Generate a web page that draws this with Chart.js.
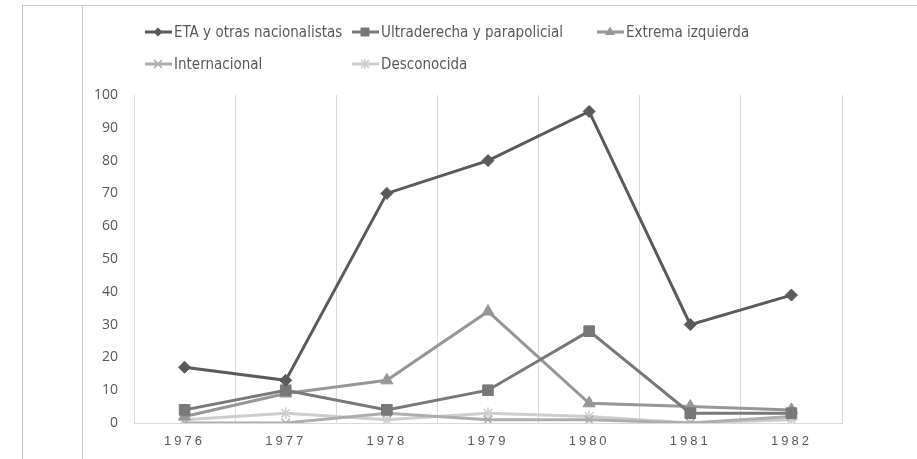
<!DOCTYPE html>
<html>
<head>
<meta charset="utf-8">
<script src="https://cdn.jsdelivr.net/npm/chart.js@4"></script>
<style>
  html, body { margin: 0; padding: 0; background: #fff; }
  #wrap { position: relative; width: 917px; height: 459px; overflow: hidden; }
  #chart { position: absolute; left: 0; top: 0; }
  .frame { position: absolute; background: #c8c8c8; }
  #legend { position: absolute; left: 0; top: 0; font-family: "Liberation Sans Narrow", "DejaVu Sans Condensed", sans-serif; font-size: 15px; color: #595959; }
  .item { position: absolute; display: flex; align-items: center; height: 20px; white-space: nowrap; }
  .item svg { margin-right: 2px; }
</style>
</head>
<body>
<div id="wrap">
  <div class="frame" style="left:22px; top:5px; width:1px; height:454px;"></div>
  <div class="frame" style="left:82px; top:5px; width:1px; height:454px;"></div>
  <div class="frame" style="left:22px; top:5px; width:895px; height:1px;"></div>
  <canvas id="chart" width="917" height="459"></canvas>
  <div id="legend"></div>
</div>
<script>
const years = ["1976", "1977", "1978", "1979", "1980", "1981", "1982"];
const eta = [17, 13, 70, 80, 95, 30, 39];
const ultraderecha = [4, 10, 4, 10, 28, 3, 3];
const extremaIzquierda = [2, 9, 13, 34, 6, 5, 4];
const internacional = [0, 0, 3, 1, 1, 0, 2];
const desconocida = [1, 3, 1, 3, 2, 0, 1];
const yTicks = [0, 10, 20, 30, 40, 50, 60, 70, 80, 90, 100];

const series = [
  { label: "ETA y otras nacionalistas", data: eta, color: "#5a5a5a", style: "rectRot", radius: 6 },
  { label: "Ultraderecha y parapolicial", data: ultraderecha, color: "#787878", style: "rect", radius: 7.5 },
  { label: "Extrema izquierda", data: extremaIzquierda, color: "#969696", style: "triangle", radius: 7 },
  { label: "Internacional", data: internacional, color: "#adadad", style: "crossRot", radius: 6 },
  { label: "Desconocida", data: desconocida, color: "#cdcdcd", style: "star", radius: 6 },
];

// legend slots, laid out like the original two-row grid
const legendSlots = [
  { x: 145, y: 22 }, { x: 352, y: 22 }, { x: 597, y: 22 },
  { x: 145, y: 54 }, { x: 352, y: 54 },
];

function markerSvg(s) {
  const c = s.color;
  let m = "";
  if (s.style === "rectRot") m = `<polygon points="13,5.5 17.5,10 13,14.5 8.5,10" fill="${c}"/>`;
  else if (s.style === "rect") m = `<rect x="8.5" y="5.5" width="9" height="9" fill="${c}"/>`;
  else if (s.style === "triangle") m = `<polygon points="13,4.5 18,13 8,13" fill="${c}"/>`;
  else if (s.style === "crossRot") m = `<path d="M9,6 L17,14 M17,6 L9,14" stroke="${c}" stroke-width="1.5"/>`;
  else m = `<path d="M9,6 L17,14 M17,6 L9,14 M13,5 L13,15" stroke="${c}" stroke-width="1.5"/>`;
  return `<svg width="27" height="20"><line x1="0" y1="10" x2="27" y2="10" stroke="${c}" stroke-width="3"/>${m}</svg>`;
}

const legendEl = document.getElementById("legend");
series.forEach((s, i) => {
  const div = document.createElement("div");
  div.className = "item";
  div.style.left = legendSlots[i].x + "px";
  div.style.top = legendSlots[i].y + "px";
  div.innerHTML = markerSvg(s) + `<span>${s.label}</span>`;
  legendEl.appendChild(div);
});

// spaced-out year labels on the x axis
const spacedLabels = {
  id: "spacedLabels",
  afterLayout(chart) {
    const x = chart.scales.x;
    if (x._spaced) return;
    const orig = x.drawLabels.bind(x);
    x.drawLabels = (area) => {
      chart.ctx.save();
      chart.ctx.letterSpacing = "3px";
      orig(area);
      chart.ctx.restore();
    };
    x._spaced = true;
  },
};

new Chart(document.getElementById("chart"), {
  type: "line",
  data: {
    labels: years,
    datasets: series.map((s) => ({
      label: s.label,
      data: s.data,
      borderColor: s.color,
      backgroundColor: s.color,
      borderWidth: 3,
      pointStyle: s.style,
      pointRadius: s.radius,
      pointBorderWidth: s.style === "crossRot" || s.style === "star" ? 1.5 : 1,
      pointBorderColor: s.color,
      pointBackgroundColor: s.color,
      tension: 0,
    })),
  },
  options: {
    responsive: false,
    animation: false,
    events: [],
    layout: { padding: { left: 0, right: 75, top: 95, bottom: 0 } },
    plugins: { legend: { display: false }, tooltip: { enabled: false } },
    scales: {
      x: {
        offset: true,
        grid: { offset: true, color: "#d9d9d9", lineWidth: 1, drawTicks: false },
        border: { display: true, color: "#d9d9d9", width: 1 },
        ticks: {
          padding: 11,
          color: "#595959",
          font: { family: "'Liberation Sans', sans-serif", size: 13 },
          maxRotation: 0,
        },
        afterFit(scale) { scale.height = 36; },
      },
      y: {
        min: 0,
        max: 100,
        afterBuildTicks(scale) { scale.ticks = yTicks.map((v) => ({ value: v })); },
        grid: { display: false, drawTicks: false },
        border: { display: false },
        ticks: {
          padding: 16,
          color: "#595959",
          font: { family: "'Open Sans', sans-serif", size: 14 },
        },
        afterFit(scale) { scale.width = 134; },
      },
    },
  },
  plugins: [spacedLabels],
});
</script>
</body>
</html>
